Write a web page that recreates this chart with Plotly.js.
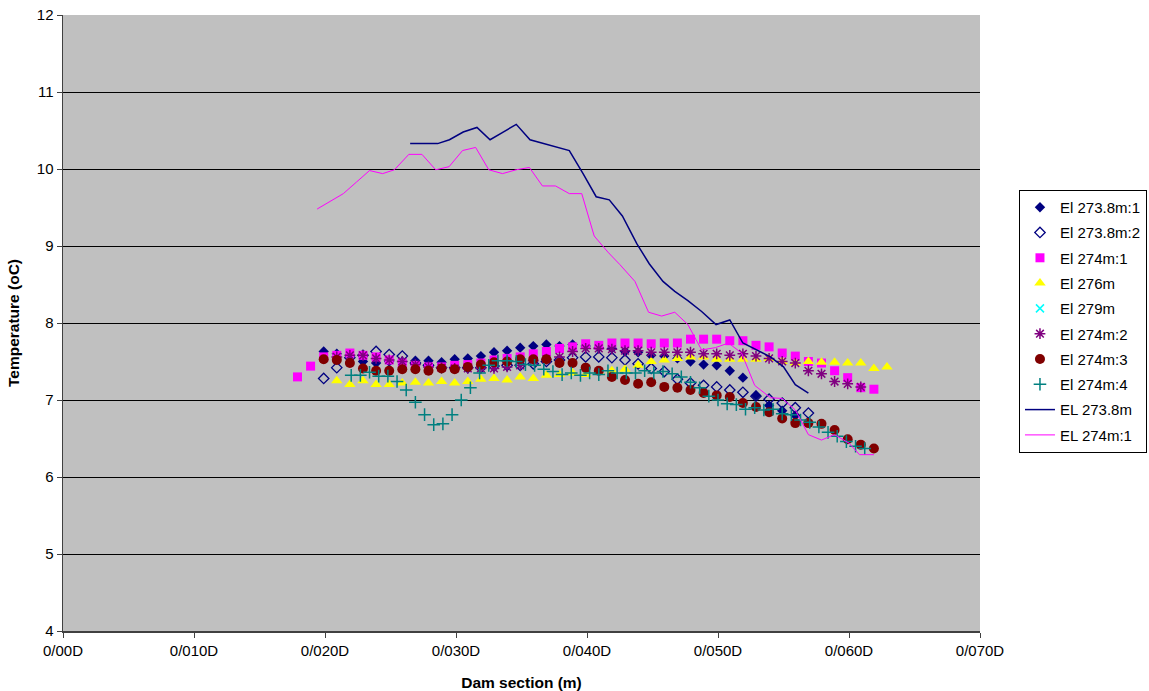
<!DOCTYPE html>
<html>
<head>
<meta charset="utf-8">
<script src="https://cdn.plot.ly/plotly-3.0.1.min.js"></script>
<style>html,body{margin:0;padding:0;background:#fff}#chart{width:1149px;height:691px}</style>
</head>
<body>
<div id="chart"></div>
<script>
// x-axis tick values and labels
const xTickVals = [0, 10, 20, 30, 40, 50, 60, 70];
const xTickText = ["0/00D", "0/010D", "0/020D", "0/030D", "0/040D", "0/050D", "0/060D", "0/070D"];

// El 273.8m:1 (filled diamonds)
const x_el2738_1 = [19.9,20.9,21.9,22.9,23.9,24.9,25.9,26.9,27.9,28.9,29.9,30.9,31.9,32.9,33.9,34.9,35.9,36.9,37.9,38.9,39.9,40.9,41.9,42.9,43.9,44.9,45.9,46.9,47.9,48.9,49.9,50.9,51.9,52.9,53.9,54.9,55.9];
const y_el2738_1 = [7.63,7.60,7.58,7.50,7.48,7.50,7.50,7.51,7.51,7.49,7.53,7.54,7.57,7.62,7.64,7.68,7.70,7.72,7.70,7.72,7.70,7.68,7.67,7.63,7.62,7.58,7.57,7.54,7.50,7.46,7.45,7.38,7.29,7.06,6.93,6.86,6.80];

// El 273.8m:2 (open diamonds)
const x_el2738_2 = [19.9,20.9,21.9,22.9,23.9,24.9,25.9,26.9,27.9,28.9,29.9,30.9,31.9,32.9,33.9,34.9,35.9,36.9,37.9,38.9,39.9,40.9,41.9,42.9,43.9,44.9,45.9,46.9,47.9,48.9,49.9,50.9,51.9,52.9,53.9,54.9,55.9,56.9];
const y_el2738_2 = [7.28,7.42,7.55,7.58,7.63,7.59,7.57,7.48,7.45,7.42,7.42,7.42,7.42,7.44,7.45,7.45,7.47,7.50,7.52,7.55,7.56,7.56,7.55,7.52,7.47,7.41,7.37,7.27,7.22,7.19,7.17,7.13,7.10,7.05,7.01,6.96,6.90,6.83];

// El 274m:1 (squares)
const x_el274_1 = [17.9,18.9,19.9,20.9,21.9,22.9,23.9,24.9,25.9,26.9,27.9,28.9,29.9,30.9,31.9,32.9,33.9,34.9,35.9,36.9,37.9,38.9,39.9,40.9,41.9,42.9,43.9,44.9,45.9,46.9,47.9,48.9,49.9,50.9,51.9,52.9,53.9,54.9,55.9,56.9,57.9,58.9,59.9,60.9,61.9];
const y_el274_1 = [7.30,7.44,7.56,7.58,7.61,7.58,7.56,7.52,7.48,7.45,7.43,7.43,7.45,7.46,7.48,7.52,7.54,7.56,7.60,7.63,7.67,7.69,7.73,7.71,7.74,7.74,7.74,7.73,7.74,7.74,7.79,7.79,7.79,7.77,7.77,7.71,7.69,7.61,7.57,7.50,7.48,7.38,7.29,7.16,7.14];

// El 276m (triangles)
const x_el276 = [20.9,21.9,22.9,23.9,24.9,25.9,26.9,27.9,28.9,29.9,30.9,31.9,32.9,33.9,34.9,35.9,36.9,37.9,38.9,39.9,40.9,41.9,42.9,43.9,44.9,45.9,46.9,47.9,48.9,49.9,50.9,51.9,52.9,53.9,54.9,55.9,56.9,57.9,58.9,59.9,60.9,61.9,62.9];
const y_el276 = [7.25,7.20,7.25,7.20,7.20,7.22,7.23,7.22,7.24,7.22,7.24,7.27,7.28,7.26,7.30,7.28,7.32,7.33,7.35,7.33,7.36,7.38,7.40,7.45,7.50,7.52,7.54,7.56,7.56,7.53,7.53,7.53,7.53,7.54,7.50,7.48,7.50,7.49,7.49,7.48,7.48,7.41,7.43];

// El 279m (x marks) - no visible points in the picture
const x_el279 = [null];
const y_el279 = [null];

// El 274m:2 (stars)
const x_el274_2 = [20.9,21.9,22.9,23.9,24.9,25.9,26.9,27.9,28.9,29.9,30.9,31.9,32.9,33.9,34.9,35.9,36.9,37.9,38.9,39.9,40.9,41.9,42.9,43.9,44.9,45.9,46.9,47.9,48.9,49.9,50.9,51.9,52.9,53.9,54.9,55.9,56.9,57.9,58.9,59.9,60.9];
const y_el274_2 = [7.56,7.58,7.58,7.54,7.52,7.50,7.46,7.43,7.42,7.41,7.41,7.41,7.41,7.43,7.45,7.51,7.53,7.56,7.63,7.67,7.67,7.66,7.64,7.64,7.62,7.62,7.62,7.62,7.60,7.60,7.58,7.60,7.57,7.54,7.50,7.48,7.38,7.34,7.24,7.21,7.17];

// El 274m:3 (circles)
const x_el274_3 = [19.9,20.9,21.9,22.9,23.9,24.9,25.9,26.9,27.9,28.9,29.9,30.9,31.9,32.9,33.9,34.9,35.9,36.9,37.9,38.9,39.9,40.9,41.9,42.9,43.9,44.9,45.9,46.9,47.9,48.9,49.9,50.9,51.9,52.9,53.9,54.9,55.9,56.9,57.9,58.9,59.9,60.9,61.9];
const y_el274_3 = [7.53,7.52,7.48,7.41,7.38,7.38,7.40,7.40,7.38,7.41,7.40,7.43,7.46,7.49,7.50,7.53,7.53,7.53,7.48,7.48,7.42,7.38,7.30,7.26,7.21,7.23,7.17,7.16,7.13,7.09,7.06,7.04,6.96,6.91,6.84,6.76,6.70,6.70,6.69,6.61,6.49,6.42,6.37];

// El 274m:4 (plus marks)
const x_el274_4 = [22.0,22.7,23.4,24.1,24.8,25.5,26.2,26.9,27.6,28.3,29.0,29.7,30.4,31.1,31.8,32.5,33.2,33.9,34.6,35.3,36.0,36.7,37.4,38.1,38.8,39.5,40.2,40.9,41.6,42.3,43.0,43.7,44.4,45.1,45.8,46.5,47.2,47.9,48.6,49.3,50.0,50.7,51.4,52.1,52.8,53.5,54.2,54.9,55.6,56.3,57.0,57.7,58.4,59.1,59.8,60.5,61.2];
const y_el274_4 = [7.32,7.32,7.36,7.31,7.31,7.24,7.13,6.97,6.81,6.68,6.69,6.81,7.00,7.16,7.35,7.45,7.51,7.51,7.50,7.46,7.45,7.40,7.37,7.33,7.35,7.32,7.35,7.33,7.38,7.35,7.35,7.35,7.38,7.35,7.37,7.34,7.30,7.23,7.16,7.05,7.00,6.95,6.94,6.88,6.90,6.87,6.88,6.82,6.81,6.74,6.71,6.65,6.58,6.53,6.46,6.40,6.37];

// EL 273.8m (line)
const x_line2738 = [26.5,27.5,28.6,29.5,30.55,31.6,32.6,33.6,34.6,35.65,36.7,37.7,38.65,39.7,40.7,41.7,42.7,43.8,44.75,45.8,46.7,47.7,48.75,49.85,50.9,51.9,52.95,54.0,55.0,55.9,56.9];
const y_line2738 = [10.33,10.33,10.33,10.38,10.48,10.54,10.38,10.48,10.58,10.38,10.33,10.29,10.24,9.94,9.64,9.60,9.39,9.03,8.77,8.54,8.41,8.29,8.15,7.98,8.04,7.74,7.65,7.56,7.43,7.20,7.09];

// EL 274m:1 (line)
const x_line274 = [19.4,20.4,21.4,22.4,23.4,24.4,25.3,26.4,27.4,28.45,29.47,30.5,31.5,32.5,33.55,34.6,35.6,36.6,37.6,38.65,39.6,40.55,41.6,42.5,43.66,44.7,45.7,46.7,47.7,48.75,49.8,50.8,51.8,52.8,54.0,54.9,55.9,56.9,57.9,58.9,60.0,60.8,61.9];
const y_line274 = [9.48,9.58,9.68,9.83,9.98,9.94,9.99,10.19,10.19,9.99,10.03,10.24,10.28,9.99,9.94,9.99,10.02,9.78,9.78,9.68,9.68,9.13,8.92,8.76,8.54,8.14,8.09,8.14,7.98,7.65,7.68,7.74,7.61,7.19,7.03,7.02,6.87,6.55,6.48,6.55,6.44,6.29,6.29];

function mk(name, x, y, symbol, color, size, open, lw) {
  const marker = {symbol: symbol, size: size, color: color};
  marker.line = open ? {color: color, width: lw || 1.5} : {width: 0};
  return {type: 'scatter', mode: 'markers', name: name, x: x, y: y, marker: marker, legendgroup: name, showlegend: true};
}
function ln(name, x, y, color, w) {
  return {type: 'scatter', mode: 'lines', name: name, x: x, y: y, line: {color: color, width: w}, legendgroup: name};
}

const traces = [
  mk('El 273.8m:1', x_el2738_1, y_el2738_1, 'diamond', '#000080', 8, false),
  mk('El 273.8m:2', x_el2738_2, y_el2738_2, 'diamond-open', '#000080', 8, true, 1.3),
  mk('El 274m:1', x_el274_1, y_el274_1, 'square', '#FF00FF', 9, false),
  mk('El 276m', x_el276, y_el276, 'triangle-up', '#FFFF00', 10, false),
  mk('El 279m', x_el279, y_el279, 'x-thin-open', '#00FFFF', 8, true, 1.5),
  mk('El 274m:2', x_el274_2, y_el274_2, 'asterisk-open', '#800080', 9, true, 1.5),
  mk('El 274m:3', x_el274_3, y_el274_3, 'circle', '#800000', 10, false),
  mk('El 274m:4', x_el274_4, y_el274_4, 'cross-thin-open', '#008080', 9, true, 1.5),
  ln('EL 273.8m', x_line2738, y_line2738, '#000080', 1.5),
  ln('EL 274m:1', x_line274, y_line274, '#FF00FF', 1)
];

const layout = {
  width: 1149, height: 691,
  margin: {l: 63, r: 169, t: 15, b: 60, autoexpand: false},
  paper_bgcolor: '#FFFFFF',
  plot_bgcolor: '#C0C0C0',
  font: {family: 'Liberation Sans, Arial, sans-serif', size: 15, color: '#000'},
  showlegend: true,
  legend: {
    x: 1.0425, xanchor: 'left', y: 0.716, yanchor: 'top',
    bgcolor: '#FFFFFF', bordercolor: '#000000', borderwidth: 1,
    font: {size: 15, color: '#000'},
    tracegroupgap: 2.8,
    itemwidth: 30
  },
  xaxis: {
    range: [0, 70], tickvals: xTickVals, ticktext: xTickText,
    showgrid: false, zeroline: false,
    showline: true, linecolor: '#404040', linewidth: 1.5,
    ticks: 'outside', ticklen: 5, tickcolor: '#404040',
    tickfont: {size: 15},
    title: {text: '<b>Dam section (m)</b>', font: {size: 15.5}, standoff: 19}
  },
  yaxis: {
    range: [4, 12], dtick: 1, tick0: 4,
    showgrid: true, gridcolor: '#000000', gridwidth: 1,
    zeroline: false,
    showline: true, linecolor: '#404040', linewidth: 1.5,
    ticks: 'outside', ticklen: 5, tickcolor: '#404040',
    tickfont: {size: 15},
    title: {text: '<b>Temperature (oC)</b>', font: {size: 15.5}, standoff: 13}
  }
};

Plotly.newPlot('chart', traces, layout, {staticPlot: true, displayModeBar: false});
</script>
</body>
</html>
